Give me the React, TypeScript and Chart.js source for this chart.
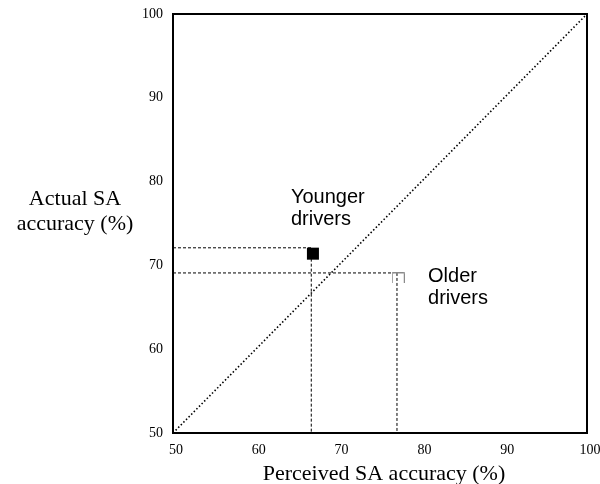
import React, { useEffect, useRef } from "react";
import { Chart, registerables } from "chart.js";

Chart.register(...registerables);

// ---- data ----
const groups = ["Younger drivers", "Older drivers"];
const perceived = [66.9, 77.2];
const actual = [71.4, 68.5];
const guideVX = [66.7, 77.05];
const guideHY = [72.1, 69.1];
const guideHEndX = [66.7, 76.6];
const guideVTopY = [71.4, 69.1];
const axisMin = 50;
const axisMax = 100;
const tickStep = 10;
const diagonal = [50, 100];
const labelX = [64.25, 80.8];
const labelY = [77.45, 68.0];
const xTitle = "Perceived SA accuracy (%)";
const yTitle = ["Actual SA", "accuracy (%)"];

const SERIF = "'Times New Roman', 'Liberation Serif', serif";
const SANS = "Arial, 'Liberation Sans', sans-serif";

function makeOpenSquare(): HTMLCanvasElement {
  const c = document.createElement("canvas");
  c.width = 13;
  c.height = 11;
  const ctx = c.getContext("2d")!;
  ctx.strokeStyle = "#8a8a8a";
  ctx.lineWidth = 1;
  ctx.beginPath();
  ctx.moveTo(0.5, 11);
  ctx.lineTo(0.5, 0.5);
  ctx.lineTo(12.5, 0.5);
  ctx.lineTo(12.5, 11);
  ctx.stroke();
  return c;
}

const framePlugin = {
  id: "frameAndText",
  afterDraw(chart: any) {
    const { ctx, chartArea, scales } = chart;
    const { left, right, top, bottom } = chartArea;
    ctx.save();
    // frame
    ctx.strokeStyle = "#000";
    ctx.lineWidth = 2;
    ctx.strokeRect(left, top, right - left, bottom - top);
    // annotations
    ctx.fillStyle = "#000";
    ctx.font = `20px ${SANS}`;
    ctx.textAlign = "left";
    ctx.textBaseline = "alphabetic";
    groups.forEach((g, i) => {
      const parts = g.split(" ");
      const x = scales.x.getPixelForValue(labelX[i]);
      const y = scales.y.getPixelForValue(labelY[i]);
      parts.forEach((p, j) => ctx.fillText(p, x, y + j * 22));
    });
    // y title
    ctx.font = `22px ${SERIF}`;
    ctx.textAlign = "center";
    yTitle.forEach((t, j) => ctx.fillText(t, left - 98, top + 191 + j * 25));
    // x title
    ctx.fillText(xTitle, (left + right) / 2 + 4, bottom + 47);
    ctx.restore();
  },
};

export default function App() {
  const ref = useRef<HTMLCanvasElement>(null);
  useEffect(() => {
    const openSq = makeOpenSquare();
    const line = {
      showLine: true,
      borderColor: "#000",
      borderWidth: 1,
      pointRadius: 0,
      fill: false,
    };
    const guides: any[] = [];
    groups.forEach((g, i) => {
      guides.push({
        ...line,
        label: g + " h",
        borderDash: [3, 2],
        data: [
          { x: axisMin, y: guideHY[i] },
          { x: guideHEndX[i], y: guideHY[i] },
        ],
      });
      guides.push({
        ...line,
        label: g + " v",
        borderDash: [3, 2],
        data: [
          { x: guideVX[i], y: guideVTopY[i] },
          { x: guideVX[i], y: axisMin },
        ],
      });
    });
    const chart = new Chart(ref.current!, {
      type: "scatter",
      data: {
        datasets: [
          {
            label: groups[0],
            data: [{ x: perceived[0], y: actual[0] }],
            pointStyle: "rect",
            pointRadius: 8.5,
            backgroundColor: "#000",
            borderColor: "#000",
            borderWidth: 0,
          },
          {
            label: groups[1],
            data: [{ x: perceived[1], y: actual[1] }],
            pointStyle: openSq as any,
            pointRadius: 7,
          },
          ...guides,
          {
            ...line,
            label: "diagonal",
            borderWidth: 1.6,
            borderDash: [1.5, 2.2],
            data: diagonal.map((v) => ({ x: v, y: v })),
          },
        ],
      },
      options: {
        responsive: false,
        animation: false,
        layout: { padding: { left: 0, right: 13, top: 14, bottom: 0 } },
        plugins: { legend: { display: false }, tooltip: { enabled: false } },
        scales: {
          x: {
            type: "linear",
            min: axisMin,
            max: axisMax,
            grid: { display: false, drawTicks: false },
            border: { display: false },
            ticks: {
              stepSize: tickStep,
              color: "#000",
              padding: 9,
              labelOffset: 3,
              font: { family: SERIF, size: 14 },
            },
            afterFit: (s: any) => {
              s.height = 51;
              s.paddingLeft = 0;
              s.paddingRight = 0;
            },
          },
          y: {
            type: "linear",
            min: axisMin,
            max: axisMax,
            grid: { display: false, drawTicks: false },
            border: { display: false },
            ticks: {
              stepSize: tickStep,
              color: "#000",
              padding: 10,
              font: { family: SERIF, size: 14 },
            },
            afterFit: (s: any) => {
              s.width = 173;
              s.paddingTop = 0;
              s.paddingBottom = 0;
            },
          },
        },
      },
      plugins: [framePlugin],
    });
    return () => chart.destroy();
  }, []);
  return (
    <div style={{ position: "absolute", left: 0, top: 0, width: 600, height: 484, background: "#fff" }}>
      <canvas ref={ref} width={600} height={484} style={{ display: "block" }} />
    </div>
  );
}
